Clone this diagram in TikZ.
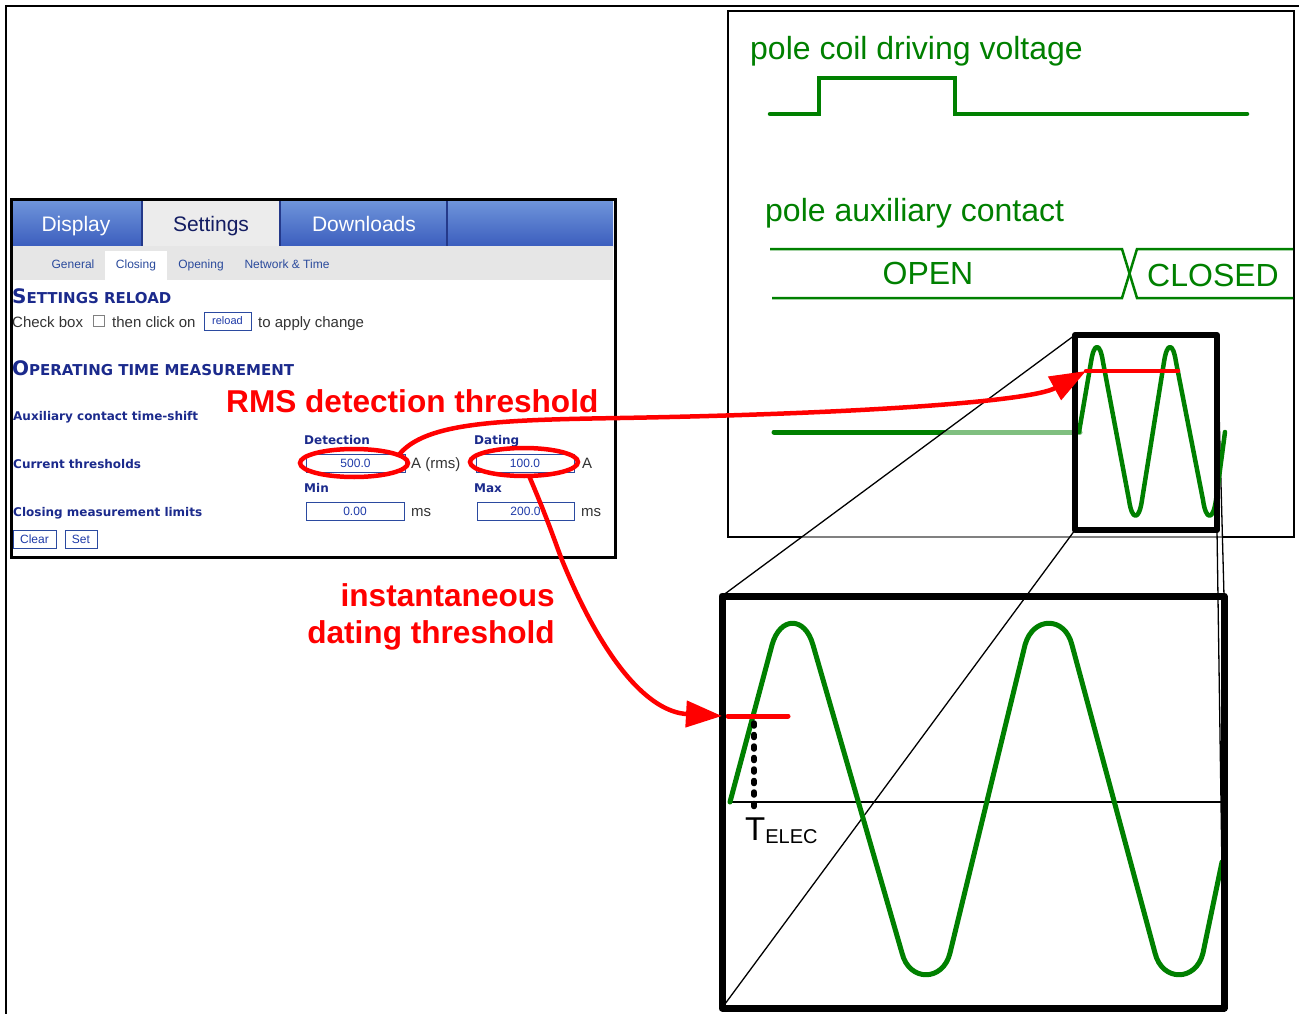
\documentclass[tikz,border=0pt]{standalone}
\usepackage{fontspec}
\setmainfont{Liberation Sans}
\newfontfamily\vfont{DejaVu Sans}
\usetikzlibrary{arrows.meta,shapes.geometric}

\definecolor{wgreen}{HTML}{008000}
\definecolor{navy}{HTML}{1B2A8C}
\definecolor{linkblue}{HTML}{2A4A9C}
\definecolor{tabtop}{HTML}{6E94DA}
\definecolor{tabbot}{HTML}{3C5EBE}
\definecolor{tabline}{HTML}{24398A}
\definecolor{tabgray}{HTML}{ECECEC}
\definecolor{subgray}{HTML}{E6E6E6}
\definecolor{paneltext}{HTML}{333333}
\definecolor{fieldline}{HTML}{2B4AA0}
\definecolor{fieldtxt}{HTML}{1E3AA8}

\newcommand{\capinit}[1]{{\fontsize{20}{24}\selectfont #1}}

\tikzset{
  tabtxt/.style={text=white, font=\fontsize{21}{25}\selectfont, anchor=base, inner sep=0pt},
  subtab/.style={text=linkblue, font=\fontsize{12}{14}\selectfont, anchor=base, inner sep=0pt},
  heading/.style={text=navy, font=\vfont\bfseries\fontsize{15}{18}\selectfont, anchor=base west, inner sep=0pt},
  lbl/.style={text=navy, font=\vfont\bfseries\fontsize{12}{14}\selectfont, anchor=base west, inner sep=0pt},
  plain/.style={text=paneltext, font=\fontsize{15}{18}\selectfont, anchor=base west, inner sep=0pt},
  field/.style={draw=fieldline, fill=white, line width=0.9pt, text=fieldtxt,
    font=\fontsize{12}{14}\selectfont, inner sep=0pt, minimum height=18pt},
  btn/.style={draw=fieldline, fill=white, line width=0.9pt, text=fieldtxt,
    font=\fontsize{12}{14}\selectfont, inner sep=0pt, minimum height=18pt},
  gtxt/.style={text=wgreen, font=\fontsize{32}{36}\selectfont, anchor=base west, inner sep=0pt},
  rtxt/.style={text=red, font=\bfseries\fontsize{31.6}{36}\selectfont, anchor=base west, inner sep=0pt},
  ring/.style={ellipse, draw=red, line width=4.5pt, inner sep=0pt, outer sep=0pt},
  redarrow/.style={draw=red, line width=4.5pt, -{Triangle[length=36pt,width=26pt]}},
  wave/.style={draw=wgreen, line width=5pt, line cap=round, line join=round},
  trace/.style={draw=wgreen, line width=4.5pt, line cap=round},
  bus/.style={draw=wgreen, line width=2.5pt},
  zoomline/.style={draw=black, line width=1.3pt},
  zoombox/.style={draw=black, line width=7pt, line join=round}
}

\begin{document}
\begin{tikzpicture}[x=1pt,y=-1pt]
\useasboundingbox (0,0) rectangle (1299,1014);

% outer frame
\draw[line width=2.5pt] (6,1014) -- (6,6) -- (1299,6);

% ================= settings page =================
\shade[top color=tabtop, bottom color=tabbot] (13,201) rectangle (613,246);
\fill[tabgray] (142,201) rectangle (280,246);
\draw[tabline, line width=1.2pt] (142,201) -- (142,246) (280,201) -- (280,246) (447,201) -- (447,246);
\fill[subgray] (13,246) rectangle (613,280);
\fill[white] (105,251) rectangle (167,280);

\node[tabtxt] (tabDisplay) at (76,231) {Display};
\node[tabtxt, text=navy!70!black] (tabSettings) at (211,231) {Settings};
\node[tabtxt] (tabDownloads) at (364,231) {Downloads};

\node[subtab] (stGeneral) at (73,268) {General};
\node[subtab] (stClosing) at (136,268) {Closing};
\node[subtab] (stOpening) at (201,268) {Opening};
\node[subtab] (stNetwork) at (287,268) {Network \& Time};

\node[heading] (hReload) at (12,303) {\capinit{S}ETTINGS RELOAD};
\node[plain] (chkA) at (12,327) {Check box};
\node[draw=gray, line width=0.8pt, minimum size=11pt, inner sep=0pt] (cbox) at (99,321) {};
\node[plain] (chkB) at (112,327) {then click on};
\node[btn, minimum width=47pt, font=\fontsize{11}{13}\selectfont] (reloadBtn) at (227.5,321) {reload};
\node[plain] (chkC) at (258,327) {to apply change};

\node[heading] (hOper) at (12,375) {\capinit{O}PERATING TIME MEASUREMENT};
\node[lbl] (lAux) at (13,420) {Auxiliary contact time-shift};
\node[lbl] (lDet) at (304,444) {Detection};
\node[lbl] (lDat) at (474,444) {Dating};
\node[lbl] (lCur) at (13,468) {Current thresholds};
\node[field, minimum width=99pt] (fDet) at (355.5,463) {500.0};
\node[plain] (uRms) at (411,468) {A (rms)};
\node[field, minimum width=98pt] (fDat) at (525,463) {100.0};
\node[plain] (uA) at (582,468) {A};
\node[lbl] (lMin) at (304,492) {Min};
\node[lbl] (lMax) at (474,492) {Max};
\node[lbl] (lLim) at (13,516) {Closing measurement limits};
\node[field, minimum width=98pt] (fMin) at (355,511) {0.00};
\node[plain] (uMsA) at (411,516) {ms};
\node[field, minimum width=97pt] (fMax) at (525.5,511) {200.0};
\node[plain] (uMsB) at (581,516) {ms};
\node[btn, minimum width=43pt] (bClear) at (34.5,539) {Clear};
\node[btn, minimum width=32pt] (bSet) at (81,539) {Set};

\draw[line width=3pt] (11,199) rectangle (615,557);

% ================= timing chart =================
\draw[line width=1.3pt] (728,11) rectangle (1294,537);

\node[gtxt] (vLabel) at (750,60) {pole coil driving voltage};
\draw[trace, line join=miter] (770,114) -- (819,114) -- (819,78) -- (955,78) -- (955,114) -- (1247,114);

\node[gtxt] (cLabel) at (765,222) {pole auxiliary contact};
\draw[bus] (770,249) -- (1122,249) -- (1137,298) -- (1293,298);
\draw[bus] (772,298) -- (1122,298) -- (1137,249) -- (1293,249);
\node[gtxt, anchor=base] (openLbl) at (928,284) {OPEN};
\node[gtxt] (closedLbl) at (1147,286) {CLOSED};

\draw[trace, line width=5pt] (774,432) -- (1080,432);

% magnifier corners
\coordinate (sTL) at (1075,335);
\coordinate (sTR) at (1217,335);
\coordinate (sBL) at (1075,530);
\coordinate (sBR) at (1217,530);
\coordinate (bTL) at (722,596);
\coordinate (bTR) at (1224,596);
\coordinate (bBL) at (722,1008);
\coordinate (bBR) at (1224,1008);

% veil over the magnified cone
\fill[white, opacity=0.5] (sTL) -- (sTR) -- (bTR) -- (bBR) -- (bBL) -- (bTL) -- cycle;

\draw[zoomline] (sTL) -- (bTL);
\draw[zoomline] (sBL) -- (bBL);
\draw[zoomline] (sTR) -- (bTR);
\draw[zoomline] (sBR) -- (bBR);

% small window: current trace
\draw[wave, line width=4.5pt] (1079,432) -- (1091,362) .. controls (1094,342) and (1100,342) .. (1103,362)
  -- (1129,500) .. controls (1132,521) and (1139,521) .. (1142,500)
  -- (1164,362) .. controls (1167,342) and (1173,342) .. (1176,362)
  -- (1203,500) .. controls (1206,521) and (1213,521) .. (1216,500) -- (1225,432);
\coordinate (rmsTip) at (1086,371);
\draw[red, line width=4.5pt, line cap=round] (rmsTip) -- (1178,371);
\draw[zoombox, line width=6pt] (sTL) rectangle (sBR);

% large window: current trace
\draw[line width=1.2pt] (730,802) -- (1222,802);
\draw[wave] (730,802) -- (772,645) .. controls (780,616) and (805,616) .. (813,645)
  -- (902,953) .. controls (909,982) and (943,982) .. (950,953)
  -- (1025,645) .. controls (1033,616) and (1065,616) .. (1072,645)
  -- (1155,953) .. controls (1162,982) and (1196,982) .. (1203,953) -- (1222,862);
\coordinate (datTip) at (722,716);
\draw[red, line width=5pt, line cap=round] (728,716) -- (788,716);
\draw[line width=5.5pt, line cap=round, dash pattern=on 3pt off 8.5pt] (754,723) -- (754,808);
\node[anchor=base west, inner sep=0pt] (telec) at (745,840)
  {\fontsize{33}{36}\selectfont T\raisebox{-3pt}{\fontsize{20}{24}\selectfont ELEC}};
\draw[zoombox] (bTL) rectangle (bBR);

% ================= annotations =================
\node[ring, minimum width=108pt, minimum height=28pt] (ringDet) at (354,463) {};
\node[ring, minimum width=108pt, minimum height=28pt] (ringDat) at (524,462) {};

\node[rtxt] (rmsLbl) at (226,412) {RMS detection threshold};
\node[rtxt, anchor=base east] (instLbl) at (555,606) {instantaneous};
\node[rtxt, anchor=base east] (datLbl) at (555,643) {dating threshold};

\draw[redarrow] (ringDet.10) .. controls (425,422) and (500,420) .. (620,418)
  .. controls (850,414) and (1030,402) .. (rmsTip);
\draw[redarrow] (ringDat.-70) .. controls (550,525) and (556,545) .. (562,560)
  .. controls (605,665) and (650,712) .. (datTip);
\end{tikzpicture}
\end{document}
